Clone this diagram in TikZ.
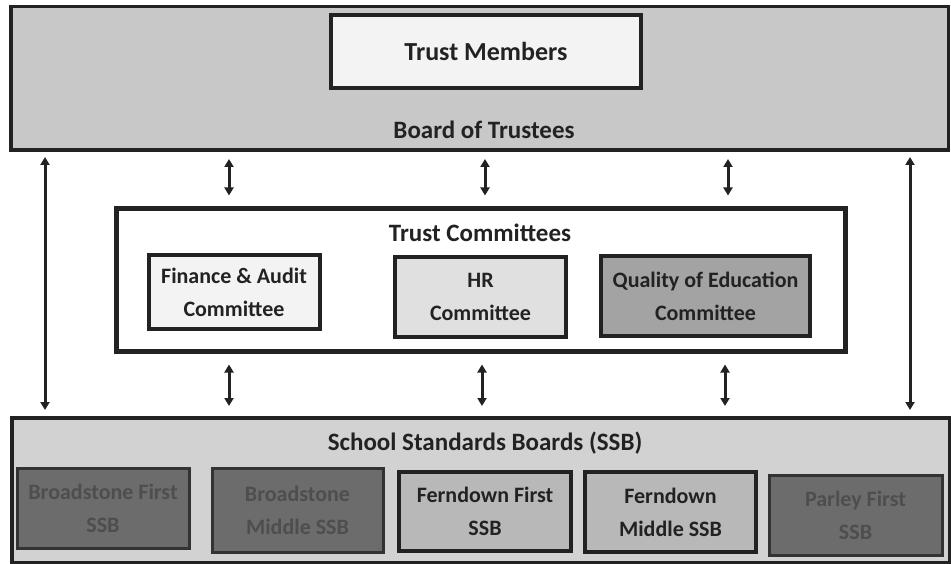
\documentclass[tikz,border=0pt]{standalone}
\usepackage{fontspec}
\setmainfont{Carlito}
\usetikzlibrary{arrows.meta}
\definecolor{boardgray}{HTML}{C8C8C8}
\definecolor{ssbgray}{HTML}{D2D2D2}
\definecolor{ink}{HTML}{222222}
\definecolor{paleA}{HTML}{F3F3F3}
\definecolor{paleB}{HTML}{E0E0E0}
\definecolor{midgray}{HTML}{A3A3A3}
\definecolor{ferngray}{HTML}{B8B8B8}
\definecolor{darkbox}{HTML}{6C6C6C}
\definecolor{darktext}{HTML}{4E4E4E}
\begin{document}
\begin{tikzpicture}[x=1pt,y=-1pt,
  frame/.style={draw=ink, line width=4pt, fill=white, inner sep=0pt},
  box/.style={draw=ink, line width=4pt, inner sep=0pt, align=center, text=ink,
    font=\fontsize{22}{33}\selectfont\bfseries},
  dbox/.style={box, draw=black!80, line width=3pt, fill=darkbox, text=darktext},
  ttl/.style={text=ink, font=\fontsize{25}{29}\selectfont\bfseries},
  arr/.style={{Triangle[width=9pt,length=8pt]}-{Triangle[width=9pt,length=8pt]}, line width=3pt, draw=ink}]
\useasboundingbox (0,0) rectangle (951,564);
% Board of Trustees
\node[frame, minimum width=937pt, minimum height=143pt] (tb) at (479.5,78.5) {};
\fill[boardgray] ([shift={(3.5pt,-3.5pt)}]tb.north west) rectangle ([shift={(-3.5pt,3.5pt)}]tb.south east);
\node[box, fill=paleA, minimum width=310pt, minimum height=73pt, font=\fontsize{26}{30}\selectfont\bfseries] (tm) at (486,51.5) {Trust Members};
\node[ttl] (tbl) at (484,130) {Board of Trustees};
% Trust Committees
\node[frame, line width=5pt, minimum width=729pt, minimum height=142pt] (tc) at (480.5,280) {};
\node[ttl] (tcl) at (480,233) {Trust Committees};
\node[box, fill=paleA, minimum width=171pt, minimum height=74pt] (fa) at (234,292) {Finance \& Audit\\Committee};
\node[box, fill=paleB, minimum width=171pt, minimum height=80pt] (hr) at (480.5,297) {HR\\Committee};
\node[box, fill=midgray, minimum width=209pt, minimum height=80pt] (qe) at (705.5,296) {Quality of Education\\Committee};
% School Standards Boards
\node[frame, minimum width=937pt, minimum height=144pt] (bb) at (480.5,490) {};
\fill[ssbgray] ([shift={(3.5pt,-3.5pt)}]bb.north west) rectangle ([shift={(-3.5pt,3.5pt)}]bb.south east);
\node[ttl] (bbl) at (485,443) {School Standards Boards (SSB)};
\node[dbox, minimum width=172pt, minimum height=80pt] (bf) at (103,508) {Broadstone First\\SSB};
\node[dbox, minimum width=171pt, minimum height=84pt] (bm) at (297.5,510) {Broadstone\\Middle SSB};
\node[box, fill=ferngray, minimum width=172pt, minimum height=79pt] (ff) at (485,511.5) {Ferndown First\\SSB};
\node[box, fill=ferngray, minimum width=171pt, minimum height=80pt] (fm) at (670.5,512) {Ferndown\\Middle SSB};
\node[dbox, minimum width=173pt, minimum height=80pt] (pf) at (855.5,515) {Parley First\\SSB};
% arrow columns
\coordinate (c1) at (229,0);
\coordinate (c2) at (485,0);
\coordinate (c3) at (728,0);
\coordinate (d1) at (229,0);
\coordinate (d2) at (482,0);
\coordinate (d3) at (725,0);
\coordinate (e1) at (45,0);
\coordinate (e2) at (910,0);
\foreach \c in {c1,c2,c3}
  \draw[arr] ([yshift=-7pt]tb.south -| \c) -- ([yshift=11pt]tc.north -| \c);
\foreach \c in {d1,d2,d3}
  \draw[arr] ([yshift=-11pt]tc.south -| \c) -- ([yshift=10pt]bb.north -| \c);
\foreach \c in {e1,e2}
  \draw[arr] ([yshift=-5pt]tb.south -| \c) -- ([yshift=6pt]bb.north -| \c);
\end{tikzpicture}
\end{document}
